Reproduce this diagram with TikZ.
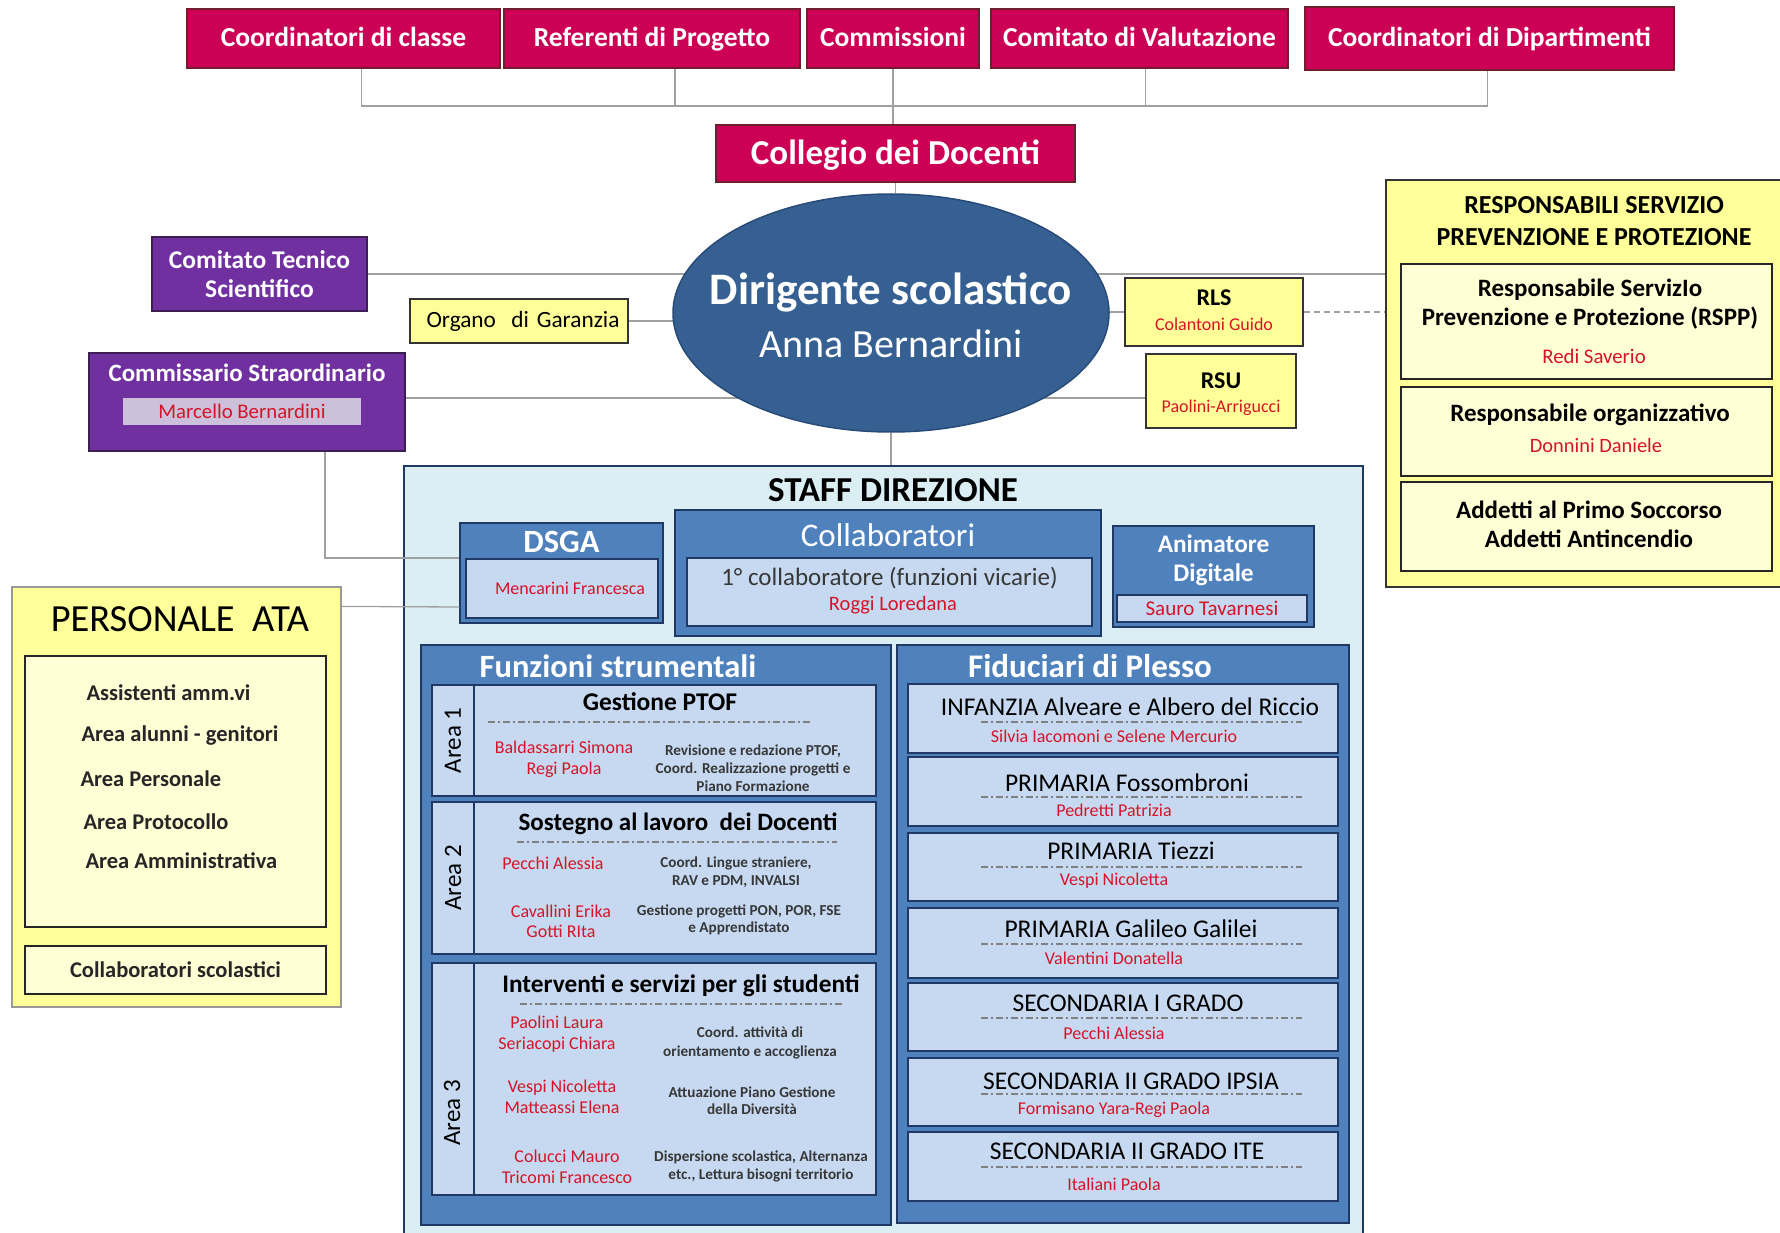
\documentclass[tikz,border=0pt]{standalone}
\usepackage{fontspec}
\setmainfont{Carlito}
\usetikzlibrary{shapes.geometric,backgrounds}

\definecolor{crimson}{RGB}{204,0,85}
\definecolor{crimsonedge}{RGB}{110,30,45}
\definecolor{purp}{RGB}{112,48,160}
\definecolor{purpedge}{RGB}{60,30,85}
\definecolor{lavender}{RGB}{204,192,218}
\definecolor{dsblue}{RGB}{54,96,146}
\definecolor{dsedge}{RGB}{40,75,120}
\definecolor{pale}{RGB}{255,255,153}
\definecolor{paler}{RGB}{255,255,214}
\definecolor{staffbg}{RGB}{218,238,243}
\definecolor{navy}{RGB}{31,56,100}
\definecolor{midblue}{RGB}{79,129,189}
\definecolor{lightblue}{RGB}{198,217,241}
\definecolor{redname}{RGB}{214,20,40}
\definecolor{linegray}{RGB}{160,160,160}
\definecolor{darktext}{RGB}{55,55,55}

\newcommand{\fsz}[2]{\fontsize{#1}{#2}\selectfont}

\tikzset{
  conn/.style={draw=linegray, line width=1.3pt},
  topbox/.style={draw=crimsonedge, fill=crimson, line width=1.8pt, text=white, inner sep=0pt, text height=21pt, text depth=4pt, font=\bfseries\fsz{27.5}{31}},
  purpbox/.style={draw=purpedge, fill=purp, line width=1.5pt, text=white, inner sep=0pt, align=center},
  yelbox/.style={draw=black!80, fill=pale, line width=1.2pt, inner sep=0pt, align=center},
  paleybox/.style={draw=black!85, fill=paler, line width=1.2pt, inner sep=0pt, align=center},
  bluebox/.style={draw=navy, fill=midblue, line width=1.5pt, inner sep=0pt},
  lightbox/.style={draw=navy, fill=lightblue, line width=1.5pt, inner sep=0pt},
  person/.style={text=redname, font=\fsz{18}{21}, align=center},
  desc/.style={text=darktext, font=\bfseries\fsz{15.2}{18}, align=center},
  dashdot/.style={draw=gray, line width=1.2pt, dash pattern=on 7pt off 3pt on 2pt off 3pt},
  whitetitle/.style={text=white, font=\bfseries\fsz{32.5}{37}},
  plesso/.style={font=\fsz{25.5}{29}},
  ataitem/.style={anchor=west, text=black!85, font=\bfseries\fsz{22.5}{26}},
}

\begin{document}
\begin{tikzpicture}[x=1pt, y=-1pt]
\useasboundingbox (0,0) rectangle (1780,1233);

% organi collegiali
\node[topbox, minimum width=313pt, minimum height=59pt] (cdc) at (343.5,38.5) {Coordinatori di classe};
\node[topbox, minimum width=296pt, minimum height=59pt] (rdp) at (652,38.5) {Referenti di Progetto};
\node[topbox, minimum width=172pt, minimum height=59pt] (com) at (893,38.5) {Commissioni};
\node[topbox, minimum width=297pt, minimum height=59pt] (cdv) at (1139.5,38.5) {Comitato di Valutazione};
\node[topbox, minimum width=369pt, minimum height=63pt] (cdd) at (1489.5,38.5) {Coordinatori di Dipartimenti};
\coordinate (bus) at (893,106);
\node[topbox, font=\bfseries\fsz{35}{40}, text height=26pt, text depth=4pt, minimum width=359pt, minimum height=57pt] (coll) at (895.5,153.5) {Collegio dei Docenti};

% dirigente
\node[ellipse, draw=dsedge, fill=dsblue, line width=1.5pt, minimum width=436pt, minimum height=238pt, inner sep=0pt] (ds) at (891,313) {};
\node[text=white, font=\bfseries\fsz{45}{50}] (dstitle) at (891,292) {Dirigente scolastico};
\node[text=white, font=\fsz{40}{44}] (dsname) at (891,344) {Anna Bernardini};

% a sinistra
\node[purpbox, font=\bfseries\fsz{25.5}{29}, minimum width=215pt, minimum height=74pt] (cts) at (259.5,274) {Comitato Tecnico\\Scientifico};
\node[yelbox, font=\fsz{23.3}{26}, minimum width=218pt, minimum height=44pt, text width=218pt, align=center] (org) at (519,321) {\hspace*{8pt}Organo\ \ di Garanzia};
\node[purpbox, minimum width=316pt, minimum height=98pt] (comm) at (247,402) {};
\node[text=white, font=\bfseries\fsz{25}{28}] (commtitle) at (247,373) {Commissario Straordinario};
\node[fill=lavender, minimum width=238pt, minimum height=27pt, inner sep=0pt, text=redname, font=\fsz{20.8}{24}] (commname) at (242,411.5) {Marcello Bernardini};

% RLS, RSU
\node[yelbox, minimum width=178pt, minimum height=68pt] (rls) at (1214,312) {};
\node[font=\bfseries\fsz{24}{27}] (rlstitle) at (1214,298) {RLS};
\node[person] (rlsname) at (1214,324) {Colantoni Guido};
\node[yelbox, minimum width=150pt, minimum height=74pt] (rsu) at (1221,391) {};
\node[font=\bfseries\fsz{24}{27}] (rsutitle) at (1221,381) {RSU};
\node[person] (rsuname) at (1221,408) {Paolini-Arrigucci};

% sicurezza
\node[yelbox, minimum width=400pt, minimum height=407pt] (resp) at (1586,383.5) {};
\node[font=\bfseries\fsz{26}{32}, align=center] (resptitle) at (1594,221) {RESPONSABILI SERVIZIO\\PREVENZIONE E PROTEZIONE};
\node[paleybox, minimum width=371pt, minimum height=115pt] (rspp) at (1586.5,321.5) {};
\node[font=\bfseries\fsz{25}{29}, align=center] (rspptitle) at (1590,304.5) {Responsabile ServizIo\\Prevenzione e Protezione (RSPP)};
\node[person, font=\fsz{20.8}{23}] (rsppname) at (1594,356) {Redi Saverio};
\node[paleybox, minimum width=371pt, minimum height=89pt] (resporg) at (1586.5,431.5) {};
\node[font=\bfseries\fsz{25}{28}] (resporgtitle) at (1590,415) {Responsabile organizzativo};
\node[person, font=\fsz{20.4}{23}] (resporgname) at (1596,445) {Donnini Daniele};
\node[paleybox, minimum width=371pt, minimum height=89pt] (addetti) at (1586.5,526.5) {};
\node[font=\bfseries\fsz{25}{29}, align=center] (addettitext) at (1589,524) {Addetti al Primo Soccorso\\Addetti Antincendio};

% personale ATA
\node[draw=gray!80, fill=pale, line width=1.2pt, minimum width=329pt, minimum height=420pt, inner sep=0pt] (ata) at (176.5,797) {};
\node[font=\fsz{38.4}{42}] (atatitle) at (180,619) {PERSONALE\ \ ATA};
\node[paleybox, minimum width=301pt, minimum height=271pt] (ataaree) at (175.5,791.5) {};
\node[ataitem] (ata1) at (83,693) {Assistenti amm.vi};
\node[ataitem] (ata2) at (78,736) {Area alunni - genitori};
\node[ataitem] (ata3) at (77,779) {Area Personale};
\node[ataitem] (ata4) at (80,822) {Area Protocollo};
\node[ataitem] (ata5) at (82,861) {Area Amministrativa};
\node[paleybox, minimum width=301pt, minimum height=48pt, text=black!85, font=\bfseries\fsz{22.5}{26}] (atacoll) at (175.5,970) {Collaboratori scolastici};

% staff direzione
\node[draw=navy, fill=staffbg, line width=2pt, minimum width=959pt, minimum height=779pt, inner sep=0pt] (staff) at (883.5,855.5) {};
\node[font=\bfseries\fsz{35}{40}] (stafftitle) at (893,490) {STAFF DIREZIONE};

\node[bluebox, minimum width=203pt, minimum height=100pt] (dsga) at (561.5,573) {};
\node[whitetitle] (dsgatitle) at (561.5,542) {DSGA};
\node[lightbox, minimum width=192pt, minimum height=59pt] (dsgabox) at (562,588.5) {};
\node[person] (dsganame) at (570,588) {Mencarini Francesca};

\node[bluebox, minimum width=426pt, minimum height=126pt] (collab) at (888,573) {};
\node[text=white, font=\fsz{33}{37}] (collabtitle) at (888,535) {Collaboratori};
\node[lightbox, minimum width=405pt, minimum height=68pt] (collabbox) at (889.5,592) {};
\node[text=darktext, font=\fsz{25}{28}] (collabtext) at (889.5,578) {1° collaboratore (funzioni vicarie)};
\node[person, font=\fsz{20.5}{23}] (collabname) at (893,605) {Roggi Loredana};

\node[bluebox, minimum width=201pt, minimum height=101pt] (anim) at (1213.5,576.5) {};
\node[text=white, font=\bfseries\fsz{25.3}{29}, align=center] (animtitle) at (1213.5,560.5) {Animatore\\Digitale};
\node[lightbox, minimum width=190pt, minimum height=27pt, person, font=\fsz{21}{23}] (animname) at (1212,608.5) {Sauro Tavarnesi};

% funzioni strumentali
\node[bluebox, minimum width=470pt, minimum height=580pt] (funz) at (656,935) {};
\node[whitetitle] (funztitle) at (618,666) {Funzioni strumentali};

\node[lightbox, rotate=90, minimum width=111pt, minimum height=42pt, font=\fsz{25}{28}] (lab1) at (453,740.5) {Area 1};
\node[lightbox, minimum width=402pt, minimum height=111pt] (area1) at (675,740.5) {};
\node[font=\bfseries\fsz{25.5}{29}] (a1title) at (660,702) {Gestione PTOF};
\draw[dashdot] (488,722) -- (810,722);
\node[person] (a1names) at (564,759.5) {Baldassarri Simona\\Regi Paola};
\node[desc] (a1desc) at (753,768) {Revisione e redazione PTOF,\\Coord. Realizzazione progetti e\\Piano Formazione};

\node[lightbox, rotate=90, minimum width=152pt, minimum height=42pt, font=\fsz{25}{28}] (lab2) at (453,878) {Area 2};
\node[lightbox, minimum width=402pt, minimum height=152pt] (area2) at (675,878) {};
\node[font=\bfseries\fsz{25}{29}] (a2title) at (678,824) {Sostegno al lavoro\ \ dei Docenti};
\draw[dashdot] (517,842) -- (837,842);
\node[person] (a2names1) at (553,863) {Pecchi Alessia};
\node[desc] (a2desc1) at (736,872) {Coord. Lingue straniere,\\RAV e PDM, INVALSI};
\node[person, font=\fsz{18}{20}] (a2names2) at (561,921) {Cavallini Erika\\Gotti RIta};
\node[desc, font=\bfseries\fsz{15.2}{17}] (a2desc2) at (739,919.5) {Gestione progetti PON, POR, FSE\\e Apprendistato};

\node[lightbox, minimum width=42pt, minimum height=232pt] (lab3) at (453,1079) {};
\node[rotate=90, font=\fsz{25}{28}] (lab3text) at (452,1113) {Area 3};
\node[lightbox, minimum width=402pt, minimum height=232pt] (area3) at (675,1079) {};
\node[font=\bfseries\fsz{25.3}{29}] (a3title) at (681,986) {Interventi e servizi per gli studenti};
\draw[dashdot] (520,1004) -- (843,1004);
\node[person] (a3names1) at (557,1034.5) {Paolini Laura\\Seriacopi Chiara};
\node[desc, font=\bfseries\fsz{15.2}{19}] (a3desc1) at (750,1042.5) {Coord. attività di\\orientamento e accoglienza};
\node[person] (a3names2) at (562,1096.5) {Vespi Nicoletta\\Matteassi Elena};
\node[desc, font=\bfseries\fsz{15.2}{17}] (a3desc2) at (752,1100.5) {Attuazione Piano Gestione\\della Diversità};
\node[person] (a3names3) at (567,1166.5) {Colucci Mauro\\Tricomi Francesco};
\node[desc] (a3desc3) at (761,1166) {Dispersione scolastica, Alternanza\\etc., Lettura bisogni territorio};

% fiduciari di plesso
\node[bluebox, minimum width=452pt, minimum height=578pt] (fid) at (1123,934) {};
\node[whitetitle, font=\bfseries\fsz{33}{37}] (fidtitle) at (1090,666) {Fiduciari di Plesso};

\node[lightbox, minimum width=430pt, minimum height=69pt] (pl1) at (1123,718.5) {};
\node[plesso] (pl1title) at (1130,707) {INFANZIA Alveare e Albero del Riccio};
\draw[dashdot] (981,722) -- (1302,722);
\node[person] (pl1name) at (1114,736) {Silvia Iacomoni e Selene Mercurio};

\node[lightbox, minimum width=430pt, minimum height=69pt] (pl2) at (1123,791.5) {};
\node[plesso] (pl2title) at (1127,783) {PRIMARIA Fossombroni};
\draw[dashdot] (981,797) -- (1302,797);
\node[person] (pl2name) at (1114,810) {Pedretti Patrizia};

\node[lightbox, minimum width=430pt, minimum height=68pt] (pl3) at (1123,867) {};
\node[plesso] (pl3title) at (1131,851) {PRIMARIA Tiezzi};
\draw[dashdot] (981,867) -- (1302,867);
\node[person] (pl3name) at (1114,881) {Vespi Nicoletta};

\node[lightbox, minimum width=430pt, minimum height=70pt] (pl4) at (1123,943) {};
\node[plesso] (pl4title) at (1131,929) {PRIMARIA Galileo Galilei};
\draw[dashdot] (981,944) -- (1302,944);
\node[person] (pl4name) at (1114,958) {Valentini Donatella};

\node[lightbox, minimum width=430pt, minimum height=68pt] (pl5) at (1123,1017) {};
\node[plesso] (pl5title) at (1128,1003) {SECONDARIA I GRADO};
\draw[dashdot] (981,1018) -- (1302,1018);
\node[person] (pl5name) at (1114,1033) {Pecchi Alessia};

\node[lightbox, minimum width=430pt, minimum height=68pt] (pl6) at (1123,1092) {};
\node[plesso] (pl6title) at (1131,1081) {SECONDARIA II GRADO IPSIA};
\draw[dashdot] (981,1094) -- (1302,1094);
\node[person] (pl6name) at (1114,1110) {Formisano Yara-Regi Paola};

\node[lightbox, minimum width=430pt, minimum height=69pt] (pl7) at (1123,1166.5) {};
\node[plesso] (pl7title) at (1127,1151) {SECONDARIA II GRADO ITE};
\draw[dashdot] (981,1167) -- (1302,1167);
\node[person] (pl7name) at (1114,1184) {Italiani Paola};

% collegamenti
\begin{scope}[on background layer]
  \draw[conn] ([xshift=18pt]cdc.south) |- (bus);
  \draw[conn] ([xshift=23pt]rdp.south) |- (bus);
  \draw[conn] ([xshift=6pt]cdv.south) |- (bus);
  \draw[conn] ([xshift=-2pt]cdd.south) |- (bus);
  \draw[conn] (com.south) -- (com.south |- coll.north);
  \draw[conn] (coll.south) -- (coll.south |- ds.north);
  \draw[conn] (cts.east) -- (cts.east -| resp.west);
  \draw[conn] (org.east) -- (org.east -| ds.center);
  \draw[conn] (rls.west) -- (rls.west -| ds.center);
  \draw[conn, dash pattern=on 6pt off 4pt] (rls.east) -- (rls.east -| resp.west);
  \draw[conn] ([yshift=4pt]comm.east) -- ([yshift=4pt]comm.east -| rsu.west);
  \draw[conn] (ds.south) -- (ds.south |- staff.north);
\end{scope}
\draw[conn] ([xshift=78pt]comm.south) |- ([yshift=15pt]dsga.west);
\draw[conn] ([yshift=-20pt]ata.north east) -- ([yshift=-34pt]dsga.west);
\end{tikzpicture}
\end{document}
